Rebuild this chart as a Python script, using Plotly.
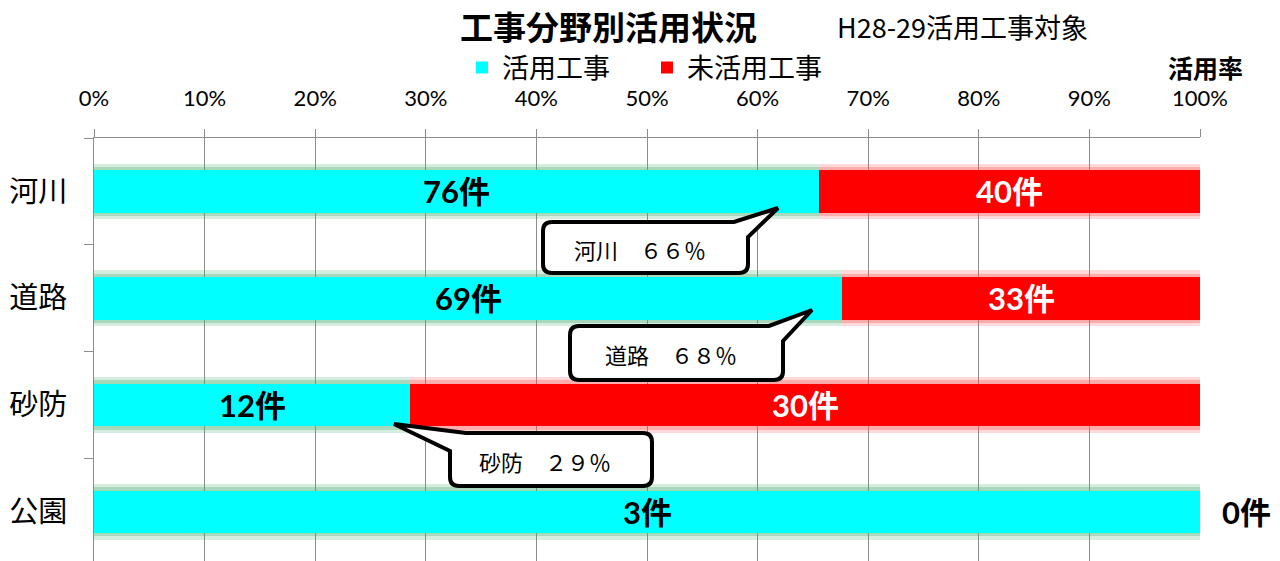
import plotly.graph_objects as go

# ---- data ----
categories = ["河川", "道路", "砂防", "公園"]
used_counts = [76, 69, 12, 3]       # 活用工事
unused_counts = [40, 33, 30, 0]     # 未活用工事
x_ticks = [0, 0.1, 0.2, 0.3, 0.4, 0.5, 0.6, 0.7, 0.8, 0.9, 1.0]

title_text = "工事分野別活用状況"
subtitle_text = "H28-29活用工事対象"
rate_label = "活用率"
series_names = ["活用工事", "未活用工事"]

totals = [u + n for u, n in zip(used_counts, unused_counts)]
used_pct = [u / t for u, t in zip(used_counts, totals)]
unused_pct = [n / t for n, t in zip(unused_counts, totals)]

CYAN = "#00FFFF"
RED = "#FF0000"
JP = "Noto Sans CJK JP"
NUM = "Lato, Noto Sans CJK JP"

# plot area in pixels
L_PX, R_PX, T_PX, B_PX = 94, 1200, 138, 561


def px(x, y):
    return (x - L_PX) / (R_PX - L_PX), (B_PX - y) / (B_PX - T_PX)


fig = go.Figure()

# glow layers
for w, op in [(0.52, 0.22), (0.46, 0.32)]:
    fig.add_trace(go.Bar(y=categories, x=used_pct, base=[0] * 4, orientation="h",
                         width=w, marker=dict(color="rgb(70,175,115)", line_width=0),
                         opacity=op, showlegend=False, hoverinfo="skip"))
    fig.add_trace(go.Bar(y=categories, x=unused_pct, base=used_pct, orientation="h",
                         width=w, marker=dict(color="rgb(255,80,80)", line_width=0),
                         opacity=op, showlegend=False, hoverinfo="skip"))

fig.add_trace(go.Bar(y=categories, x=used_pct, base=[0] * 4, orientation="h", width=0.4,
                     marker=dict(color=CYAN, line_width=0), name=series_names[0]))
fig.add_trace(go.Bar(y=categories, x=unused_pct, base=used_pct, orientation="h", width=0.4,
                     marker=dict(color=RED, line_width=0), name=series_names[1]))

annotations = []
# count labels
for cat, u, n, p in zip(categories, used_counts, unused_counts, used_pct):
    annotations.append(dict(x=p / 2, y=cat, xref="x", yref="y", text=f"{u}件", showarrow=False,
                            font=dict(family=NUM, size=31, color="black", weight="bold")))
    if n > 0:
        annotations.append(dict(x=p + (1 - p) / 2, y=cat, xref="x", yref="y", text=f"{n}件",
                                showarrow=False,
                                font=dict(family=NUM, size=31, color="white", weight="bold")))
    else:
        annotations.append(dict(x=1.0, y=cat, xref="x", yref="y", text=f"{n}件", showarrow=False,
                                xanchor="left", xshift=20,
                                font=dict(family=NUM, size=31, color="black", weight="bold")))

# callouts
FW = str.maketrans("0123456789", "０１２３４５６７８９")


def build(pts):
    s = ""
    for item in pts:
        cmd = item[0]
        coords = []
        for (x, y) in item[1:]:
            xp, yp = px(x, y)
            coords.append(f"{xp:.5f},{yp:.5f}")
        s += cmd + " ".join(coords) + " "
    return s + "Z"


def bubble_top_right(L, T, R, B, tip, r=9):
    pts = [("M", (L + r, T)), ("L", (R - 14, T)), ("L", tip), ("L", (R, T + 15)),
           ("L", (R, B - r)), ("Q", (R, B), (R - r, B)), ("L", (L + r, B)),
           ("Q", (L, B), (L, B - r)), ("L", (L, T + r)), ("Q", (L, T), (L + r, T))]
    return build(pts)


def bubble_top_left(L, T, R, B, tip, r=9):
    pts = [("M", (L + 16, T)), ("L", (R - r, T)), ("Q", (R, T), (R, T + r)),
           ("L", (R, B - r)), ("Q", (R, B), (R - r, B)), ("L", (L + r, B)),
           ("Q", (L, B), (L, B - r)), ("L", (L, T + 18)), ("L", tip)]
    return build(pts)


callout_boxes = [
    (categories[0], (543, 222, 748, 273), (778, 208), "tr"),
    (categories[1], (570, 326, 783, 380), (812, 310), "tr"),
    (categories[2], (450, 433, 652, 486), (394, 424), "tl"),
]
shapes = []
for cat, box, tip, kind in callout_boxes:
    L, T, R, B = box
    path = bubble_top_right(L, T, R, B, tip) if kind == "tr" else bubble_top_left(L, T, R, B, tip)
    shapes.append(dict(type="path", xref="paper", yref="paper", path=path,
                       line=dict(color="black", width=4), fillcolor="white", layer="above"))
    pct = round(used_pct[categories.index(cat)] * 100)
    cx, cy = px((L + R) / 2 - 6, (T + B) / 2 + 1)
    annotations.append(dict(x=cx, y=cy, xref="paper", yref="paper", xanchor="center",
                            yanchor="middle",
                            text=f"{cat}　{str(pct).translate(FW)}％", showarrow=False,
                            font=dict(family=JP, size=22, color="black")))

# titles
tx, ty = px(608, 26)
annotations.append(dict(x=tx, y=ty, xref="paper", yref="paper", xanchor="center",
                        yanchor="middle", text=title_text, showarrow=False,
                        font=dict(family=JP, size=33, color="black", weight="bold")))
sx, sy = px(835, 26)
annotations.append(dict(x=sx, y=sy, xref="paper", yref="paper", text=subtitle_text,
                        showarrow=False, xanchor="left", yanchor="middle",
                        font=dict(family=JP, size=27, color="black")))
rx, ry = px(1205, 67)
annotations.append(dict(x=rx, y=ry, xref="paper", yref="paper", xanchor="center",
                        yanchor="middle", text=rate_label, showarrow=False,
                        font=dict(family=JP, size=25, color="black", weight="bold")))

lx, ly = px(462, 68)
fig.update_layout(
    width=1280, height=561,
    margin=dict(l=L_PX, r=1280 - R_PX, t=T_PX, b=0, pad=0),
    paper_bgcolor="white", plot_bgcolor="white",
    barmode="overlay", bargap=0,
    showlegend=True,
    legend=dict(orientation="h", x=lx, y=ly, xanchor="left", yanchor="middle",
                font=dict(family=JP, size=27, color="black"),
                entrywidth=140, entrywidthmode="pixels", bgcolor="rgba(0,0,0,0)"),
    xaxis=dict(side="top", range=[0, 1], tickvals=x_ticks, tickformat=".0%",
               showgrid=True, gridcolor="#8c8c8c", gridwidth=1,
               showline=True, linecolor="#8c8c8c", linewidth=1,
               ticks="outside", ticklen=8, tickcolor="#8c8c8c",
               ticklabelstandoff=14, zeroline=False, fixedrange=True,
               tickfont=dict(family=NUM, size=22, color="black")),
    yaxis=dict(categoryorder="array", categoryarray=categories, range=[3.46, -0.5],
               showgrid=False, showline=True, linecolor="#8c8c8c", linewidth=1,
               ticks="outside", ticklen=9, tickcolor="#8c8c8c", tickson="boundaries",
               ticklabelstandoff=20, zeroline=False,
               tickfont=dict(family=JP, size=29, color="black")),
    annotations=annotations,
    shapes=shapes,
)

fig.write_html("out.html", config={"displayModeBar": False},
               post_script="document.body.style.margin='0px';")
